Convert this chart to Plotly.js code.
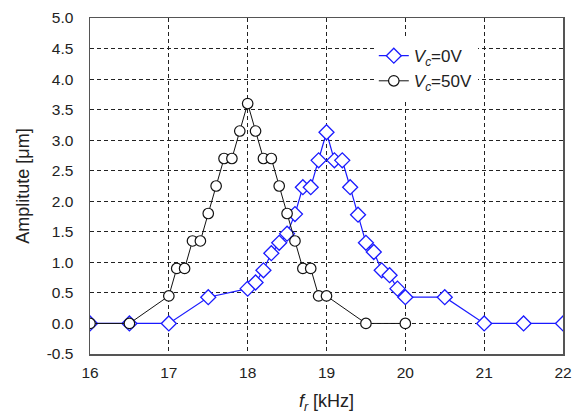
<!DOCTYPE html>
<html>
<head>
<meta charset="utf-8">
<script src="https://cdn.plot.ly/plotly-3.0.1.min.js"></script>
<style>html,body{margin:0;padding:0;background:#fff;}#chart{width:573px;height:419px;}</style>
</head>
<body>
<div id="chart"></div>
<script>
// Vc = 0V series
const freq0 = [16, 16.5, 17, 17.5, 18, 18.1, 18.2, 18.3, 18.4, 18.5, 18.6, 18.7, 18.8, 18.9, 19, 19.1, 19.2, 19.3, 19.4, 19.5, 19.6, 19.7, 19.8, 19.9, 20, 20.5, 21, 21.5, 22];
const amp0  = [0, 0, 0, 0.43, 0.57, 0.67, 0.87, 1.15, 1.32, 1.47, 1.79, 2.23, 2.23, 2.67, 3.13, 2.67, 2.67, 2.23, 1.78, 1.32, 1.17, 0.87, 0.79, 0.57, 0.43, 0.43, 0, 0, 0];
// Vc = 50V series
const freq50 = [16, 16.5, 17, 17.1, 17.2, 17.3, 17.4, 17.5, 17.6, 17.7, 17.8, 17.9, 18, 18.1, 18.2, 18.3, 18.4, 18.5, 18.6, 18.7, 18.8, 18.9, 19, 19.5, 20];
const amp50  = [0, 0, 0.45, 0.9, 0.9, 1.35, 1.35, 1.8, 2.25, 2.7, 2.7, 3.15, 3.6, 3.15, 2.7, 2.7, 2.25, 1.8, 1.35, 0.9, 0.9, 0.45, 0.45, 0, 0];
const seriesNames = ['<i>V</i><sub><i>c</i></sub>=0V', '<i>V</i><sub><i>c</i></sub>=50V'];
const yTicks = [-0.5, 0, 0.5, 1, 1.5, 2, 2.5, 3, 3.5, 4, 4.5, 5];
const xTicks = [16, 17, 18, 19, 20, 21, 22];

const traces = [
  {
    x: freq0, y: amp0, name: seriesNames[0], type: 'scatter', mode: 'lines+markers',
    line: {color: '#1a1aff', width: 1.2},
    marker: {symbol: 'diamond', size: 11.5, color: '#ffffff', line: {color: '#1a1aff', width: 1.3}}
  },
  {
    x: freq50, y: amp50, name: seriesNames[1], type: 'scatter', mode: 'lines+markers',
    line: {color: '#111111', width: 1},
    marker: {symbol: 'circle', size: 10.5, color: '#ffffff', line: {color: '#111111', width: 1.2}}
  }
];

const fam = 'Liberation Sans, Arial, sans-serif';
const layout = {
  width: 573, height: 419,
  margin: {l: 90, r: 10, t: 18, b: 65},
  paper_bgcolor: '#fff', plot_bgcolor: '#fff',
  font: {family: fam, size: 15, color: '#222'},
  showlegend: true,
  legend: {
    x: 0.6, y: 0.94, xanchor: 'left', yanchor: 'top',
    bgcolor: '#ffffff', borderwidth: 0,
    font: {family: fam, size: 17, color: '#222'}
  },
  xaxis: {
    range: [16, 22], tickvals: xTicks, ticktext: xTicks.map(String),
    showgrid: true, gridcolor: '#222', griddash: '4px,3px', gridwidth: 1,
    zeroline: false, showline: true, linecolor: '#555', linewidth: 1.5, mirror: true,
    ticks: '', tickfont: {size: 15.5}, ticklabelstandoff: 4,
    title: {text: '<i>f</i><sub><i>r</i></sub> [kHz]', font: {size: 18}, standoff: 14}
  },
  yaxis: {
    range: [-0.5, 5.0], tickvals: yTicks, ticktext: yTicks.map(v => v.toFixed(1)),
    showgrid: true, gridcolor: '#222', griddash: '4px,3px', gridwidth: 1,
    zeroline: false, showline: true, linecolor: '#555', linewidth: 1.5, mirror: true,
    ticks: '', tickfont: {size: 15.5}, ticklabelstandoff: 12,
    title: {text: 'Amplitute [μm]', font: {size: 18}, standoff: 12}
  }
};

Plotly.newPlot('chart', traces, layout, {staticPlot: true, displayModeBar: false});
</script>
</body>
</html>
